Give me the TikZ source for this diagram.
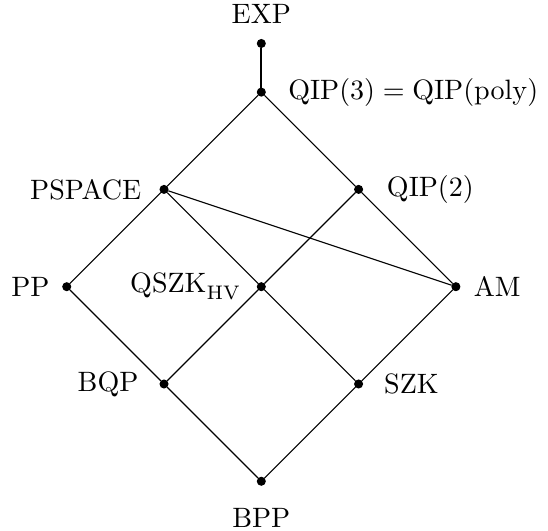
\documentclass[tikz,border=0pt]{standalone}
\usepackage{amssymb}
\usepackage{tikz}
\begin{document}
\begin{tikzpicture}[x=1.22cm,y=1.22cm,label distance=3pt,
  dot/.style={draw,circle,fill,inner sep=0pt,minimum size=2.8pt}]
\useasboundingbox (-2.686,-2.511) rectangle (2.947,2.947);
\node[dot,label={[label distance=2pt]above:EXP}] (exp) at (0,2.5) {};
\node[dot,label={[label distance=4.5pt]right:$\mathrm{QIP}(3) = \mathrm{QIP}(\mathrm{poly})$}] (qip3) at (0,2) {};
\node[dot,label=left:PSPACE] (pspace) at (-1,1) {};
\node[dot,label={[label distance=5pt]right:$\mathrm{QIP}(2)$}] (qip2) at (1,1) {};
\node[dot,label={[label distance=1pt]left:PP}] (pp) at (-2,0) {};
\node[dot,label={[label distance=2pt]left:$\mathrm{QSZK}_{\mathrm{HV}}$}] (qszk) at (0,0) {};
\node[dot,label={[label distance=1.3pt]right:AM}] (am) at (2,0) {};
\node[dot,label={[label distance=4pt]left:BQP}] (bqp) at (-1,-1) {};
\node[dot,label={[label distance=4pt]right:SZK}] (szk) at (1,-1) {};
\node[dot,label={[label distance=4.5pt]below:BPP}] (bpp) at (0,-2) {};
\draw[thick] (exp) -- (qip3);
\draw (qip3) -- (pspace) -- (pp) -- (bqp) -- (bpp) -- (szk) -- (am) -- (qip2) -- (qip3);
\draw (pspace) -- (qszk) -- (szk);
\draw (qip2) -- (qszk) -- (bqp);
\draw (pspace) -- (am);
\end{tikzpicture}
\end{document}
